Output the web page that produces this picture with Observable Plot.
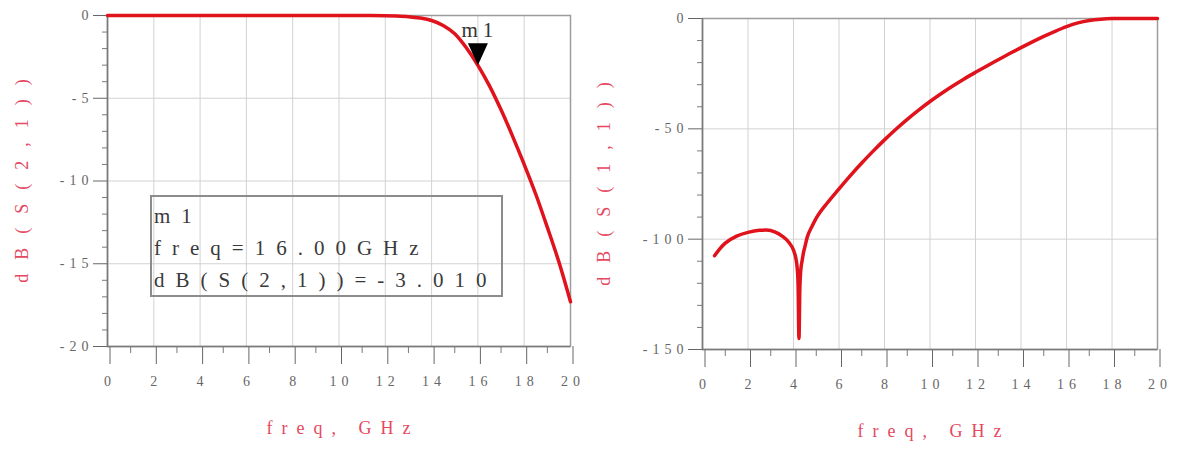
<!DOCTYPE html>
<html>
<head>
<meta charset="utf-8">
<script src="https://cdn.jsdelivr.net/npm/d3@7"></script>
<script src="https://cdn.jsdelivr.net/npm/@observablehq/plot@0.6"></script>
<style>
  body { margin: 0; background: #fff; }
  #wrap { position: relative; width: 1177px; height: 450px; overflow: hidden; background: #fff; }
  .chart { position: absolute; top: 0; }
  .chart text { letter-spacing: 5px; }
  .mbox {
    position: absolute; box-sizing: border-box;
    border: 2px solid #8c8c8c;
    font-family: "Liberation Serif", "DejaVu Serif", serif;
    font-size: 21px; line-height: 32px; color: #3a3a3a;
    letter-spacing: 11px; white-space: nowrap;
    padding: 3px 0 0 2px;
  }
</style>
</head>
<body>
<div id="wrap"></div>
<script>
// ---------- data ----------
const xTicks = [0, 2, 4, 6, 8, 10, 12, 14, 16, 18, 20];
const xMinorTicks = [1, 3, 5, 7, 9, 11, 13, 15, 17, 19];

const s21YTicks = [0, -5, -10, -15, -20];
const s21YMinor = [-1, -2, -3, -4, -6, -7, -8, -9, -11, -12, -13, -14, -16, -17, -18, -19];
const s21Freq = [0, 2, 4, 6, 8, 10, 11, 12, 12.5, 13, 13.5, 14, 14.5, 15, 15.5, 16, 16.5, 17, 17.5, 18, 18.5, 19, 19.5, 20];
const s21Db   = [0, 0, 0, 0, 0, 0, 0, -0.01, -0.03, -0.07, -0.15, -0.3, -0.6, -1.1, -1.95, -3.01, -4.25, -5.7, -7.3, -9.0, -10.8, -12.8, -14.9, -17.3];

const s11YTicks = [0, -50, -100, -150];
const s11YMinor = [-10, -20, -30, -40, -60, -70, -80, -90, -110, -120, -130, -140];
const s11Freq = [0.53, 0.75, 1.0, 1.5, 2.0, 2.5, 2.8, 3.2, 3.5, 3.8, 4.0, 4.1, 4.16, 4.2, 4.24, 4.28, 4.32, 4.38, 4.45, 4.5, 4.6, 4.8, 5.0, 5.5, 6.0, 6.5, 7.0, 7.5, 8.0, 8.5, 9.0, 9.5, 10, 10.5, 11, 11.5, 12, 12.5, 13, 13.5, 14, 14.5, 15, 15.5, 16, 16.5, 17, 17.5, 18, 19, 20];
const s11Db   = [-107.5, -104.5, -101.8, -98.6, -96.9, -96.0, -95.9, -96.8, -98.6, -101.5, -105.0, -108.5, -112.8, -120, -145, -122, -114, -109.7, -105.5, -103.5, -99.2, -94.5, -90.5, -83.4, -77.2, -71.2, -65.5, -60.1, -55.0, -50.2, -45.7, -41.5, -37.6, -34.0, -30.6, -27.4, -24.4, -21.5, -18.7, -15.9, -13.2, -10.6, -8.1, -5.8, -3.7, -2.0, -0.9, -0.3, -0.05, 0, 0];

const markerName = ["m1"];
const markerFreq = [16.00];
const markerDb = [-3.010];

const xLabel = "freq, GHz";
const s21Label = "dB(S(2,1))";
const s11Label = "dB(S(1,1))";

// ---------- style ----------
const RED = "#e0121b";
const PINK = "#e5485f";
const AXIS = "#7a7a7a";
const GRID = "#d2d2d2";
const FONT = "Liberation Serif, DejaVu Serif, serif";

const downTriangle = {
  draw(context, size) {
    const s = Math.sqrt(size / Math.PI);
    context.moveTo(0, 0);
    context.lineTo(-s, -2.2 * s);
    context.lineTo(s, -2.2 * s);
    context.closePath();
  }
};

function makeChart(c) {
  const data = c.freq.map((f, i) => ({f, v: c.db[i]}));
  const marks = [
    Plot.gridX(xTicks, {stroke: GRID, strokeOpacity: 1}),
    Plot.gridY(c.yTicks, {stroke: GRID, strokeOpacity: 1}),
    Plot.frame({stroke: "#9c9c9c", strokeWidth: 1.5}),
    Plot.axisY(c.yMinor, {tickSize: 5, tickFormat: () => "", color: AXIS, label: null}),
    Plot.axisY(c.yTicks, {tickSize: 14, tickPadding: 0, tickFormat: d => String(d), color: "#666",
      fontSize: 14, fontFamily: FONT, label: null}),
    Plot.axisX(xMinorTicks, {tickSize: 7, tickFormat: () => "", color: AXIS, label: null}),
    Plot.axisX(xTicks, {tickSize: 18, tickPadding: 12, tickFormat: d => String(d), color: "#666",
      fontSize: 14, fontFamily: FONT, dx: 2.5, label: null}),
    Plot.ruleX([c.xDomain[0]], {stroke: AXIS, strokeWidth: 1.5}),
    Plot.ruleY([c.yDomain[0]], {stroke: AXIS, strokeWidth: 1.5}),
    Plot.line(data, {x: "f", y: "v", stroke: RED, strokeWidth: 3.5, curve: "monotone-x"}),
    Plot.text([c.yLabel], {text: d => d, frameAnchor: "left", textAnchor: "middle", dx: c.yLabelDx, dy: -7,
      rotate: -90, fill: PINK, fontSize: 18, fontFamily: FONT}),
    Plot.text([xLabel], {text: d => d, frameAnchor: "bottom", dy: 87, dx: 4, fill: PINK,
      fontSize: 18, fontFamily: FONT})
  ];
  if (c.markers) {
    const md = markerName.map((n, i) => ({n, f: markerFreq[i], v: markerDb[i]}));
    marks.push(Plot.dot(md, {x: "f", y: "v", symbol: downTriangle, r: 10, fill: "#000", stroke: "none"}));
    marks.push(Plot.text(md, {x: "f", y: "v", text: "n", dy: -35, dx: 2, fontSize: 21, fill: "#333",
      fontFamily: FONT}));
  }
  const svg = Plot.plot({
    width: c.width, height: 450,
    marginLeft: c.ml, marginRight: c.mr, marginTop: c.mt, marginBottom: c.mb,
    x: {domain: c.xDomain},
    y: {domain: c.yDomain},
    style: {background: "transparent", overflow: "visible", fontFamily: FONT},
    marks
  });
  svg.classList.add("chart");
  svg.style.left = c.left + "px";
  // letter spacing for the axis titles
  d3.select(svg).selectAll("text").each(function() {
    const t = this.textContent;
    if (t === c.yLabel) this.style.letterSpacing = "14px";
    else if (t === xLabel) this.style.letterSpacing = "9px";
  });
  return svg;
}

const wrap = document.getElementById("wrap");
wrap.appendChild(makeChart({
  left: 0, width: 590, ml: 107, mr: 20, mt: 15, mb: 104,
  xDomain: [0, 20], yDomain: [-20, 0],
  yTicks: s21YTicks, yMinor: s21YMinor, yLabel: s21Label, yLabelDx: -85,
  freq: s21Freq, db: s21Db, markers: true
}));
wrap.appendChild(makeChart({
  left: 590, width: 587, ml: 112, mr: 20, mt: 18, mb: 101,
  xDomain: [0, 20], yDomain: [-150, 0],
  yTicks: s11YTicks, yMinor: s11YMinor, yLabel: s11Label, yLabelDx: -98,
  freq: s11Freq, db: s11Db, markers: false
}));

// marker readout box
const box = document.createElement("div");
box.className = "mbox";
Object.assign(box.style, {left: "150px", top: "195px", width: "353px", height: "102px"});
const lines = [
  markerName[0],
  `freq=${markerFreq[0].toFixed(2)}GHz`,
  `dB(S(2,1))=${markerDb[0].toFixed(3)}`
];
lines.forEach(t => { const d = document.createElement("div"); d.textContent = t; box.appendChild(d); });
wrap.appendChild(box);
</script>
</body>
</html>
